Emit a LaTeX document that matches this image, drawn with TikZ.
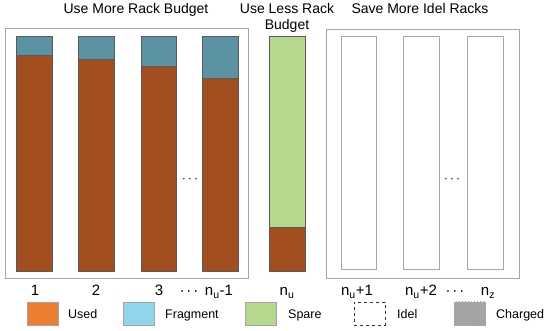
\documentclass[tikz,border=0pt]{standalone}
\usepackage{fontspec}
\setmainfont{Liberation Sans}
\usetikzlibrary{patterns}
\definecolor{usedbar}{HTML}{A24E1E}
\definecolor{fragbar}{HTML}{5B93A5}
\definecolor{usedleg}{HTML}{ED7D31}
\definecolor{fragleg}{HTML}{8FD6EC}
\definecolor{spare}{HTML}{B5D88D}
\definecolor{framegray}{HTML}{A6A6A6}
\definecolor{chargedgray}{HTML}{A3A3A3}
\definecolor{barline}{HTML}{5A5A5A}
\newcommand{\mydots}{\textperiodcentered\hspace{2pt}\textperiodcentered\hspace{2pt}\textperiodcentered}
\begin{document}
\begin{tikzpicture}[x=1pt,y=-1pt,
  txt/.style={font=\fontsize{12.5}{14}\selectfont, inner sep=0pt},
  lbl/.style={font=\fontsize{15}{17}\selectfont, inner sep=0pt, anchor=base},
  ttl/.style={font=\fontsize{14}{15.3}\selectfont, inner sep=0pt, align=center, anchor=base},
  frm/.style={draw=framegray, line width=0.8pt},
  seg/.style={draw=barline, line width=0.5pt},
  idlebar/.style={draw=framegray, line width=0.9pt, fill=white},
  legbox/.style={draw=framegray, line width=0.7pt, minimum width=31pt, minimum height=23pt, inner sep=0pt}]
\useasboundingbox (0,0) rectangle (550,331);
% titles
\node[ttl] (t1) at (136,14) {Use More Rack Budget};
\node[ttl] (t2) at (287,14) {Use Less Rack};
\node[ttl] (t2b) at (287,29.3) {Budget};
\node[ttl] (t3) at (420,14) {Save More Idel Racks};
% frames
\draw[frm] (5,28) rectangle (248,278);
\draw[frm] (326,29) rectangle (519,278);
% left racks
\foreach \xa/\xb/\yb [count=\i] in {16/52/55, 78/114/59, 141/176/66, 202/238/78}{
  \fill[fragbar] (\xa,36) rectangle (\xb,\yb);
  \fill[usedbar] (\xa,\yb) rectangle (\xb,271);
  \draw[seg] (\xa,\yb) -- (\xb,\yb);
  \draw[seg] (\xa,36) rectangle (\xb,271);
}
% middle rack
\fill[spare] (269,36) rectangle (305,227);
\fill[usedbar] (269,227) rectangle (305,271);
\draw[seg] (269,227) -- (305,227);
\draw[seg] (269,36) rectangle (305,271);
% right racks
\draw[idlebar] (341,36) rectangle (376,269);
\draw[idlebar] (403,36) rectangle (439,269);
\draw[idlebar] (467,36) rectangle (503,269);
% dots
\node[txt] (d1) at (190,180) {\mydots};
\node[txt] (d2) at (452,180) {\mydots};
% labels
\node[lbl] (l1) at (35,296) {1};
\node[lbl] (l2) at (96,296) {2};
\node[lbl] (l3) at (159,296) {3};
\node[lbl] (l4) at (189,296) {\mydots};
\node[lbl] (l5) at (219,296) {n\textsubscript{u}-1};
\node[lbl] (l6) at (287,296) {n\textsubscript{u}};
\node[lbl] (l7) at (357,296) {n\textsubscript{u}+1};
\node[lbl] (l8) at (421,296) {n\textsubscript{u}+2};
\node[lbl] (l9) at (455,296) {\mydots};
\node[lbl] (l10) at (488,296) {n\textsubscript{z}};
% legend
\node[legbox, fill=usedleg] (b1) at (42.5,313.5) {};
\node[txt, anchor=base west] (e1) at (68,318.3) {Used};
\node[legbox, fill=fragleg] (b2) at (138.5,313.5) {};
\node[txt, anchor=base west] (e2) at (165,318.3) {Fragment};
\node[legbox, fill=spare] (b3) at (261,313.5) {};
\node[txt, anchor=base west] (e3) at (288,318.3) {Spare};
\node[legbox, draw=black!80, dashed, line width=0.8pt] (b4) at (369.5,313.5) {};
\node[txt, anchor=base west] (e4) at (397,318.3) {Idel};
\node[legbox, fill=chargedgray] (b5) at (470,313.5) {};
\fill[pattern=vertical lines, pattern color=gray!70] (b5.south west) rectangle (b5.north east);
\node[txt, anchor=base west] (e5) at (496,318.3) {Charged};
\end{tikzpicture}
\end{document}
